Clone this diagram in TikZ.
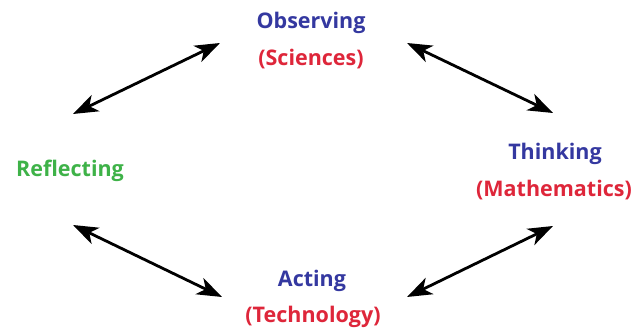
\documentclass[tikz,border=0pt]{standalone}
\usepackage{fontspec}
\setmainfont{Open Sans}
\usetikzlibrary{arrows.meta}
\definecolor{lblue}{RGB}{52,56,160}
\definecolor{lred}{RGB}{222,38,58}
\definecolor{lgreen}{RGB}{62,178,72}
\begin{document}
\begin{tikzpicture}[x=1pt,y=1pt,
  word/.style={anchor=base,inner sep=0pt,font=\fontsize{21.5}{26}\selectfont\bfseries},
  main/.style={word,text=lblue},
  field/.style={word,text=lred},
  link/.style={line width=2.8pt,
    {Stealth[length=25pt,width=18pt,inset=7pt]}-{Stealth[length=25pt,width=18pt,inset=7pt]}}]
\useasboundingbox (0,0) rectangle (642,328);
% labels
\node[main]  (obs)  at (311,299) {Observing};
\node[field] (sci)  at (311,262) {(Sciences)};
\node[main]  (thk)  at (555,168) {Thinking};
\node[field] (math) at (554,131) {(Mathematics)};
\node[main]  (act)  at (312,41)  {Acting};
\node[field] (tech) at (313,5)   {(Technology)};
\node[word,text=lgreen] (ref) at (70,151) {Reflecting};
% arrow end points
\coordinate (tlA) at (73,214);
\coordinate (tlB) at (220,285);
\coordinate (trA) at (407,285);
\coordinate (trB) at (553,215);
\coordinate (brA) at (553,102);
\coordinate (brB) at (407,31);
\coordinate (blA) at (73,103);
\coordinate (blB) at (222,31);
% connectors
\draw[link] (tlA) -- (tlB);
\draw[link] (trA) -- (trB);
\draw[link] (brA) -- (brB);
\draw[link] (blA) -- (blB);
\end{tikzpicture}
\end{document}
